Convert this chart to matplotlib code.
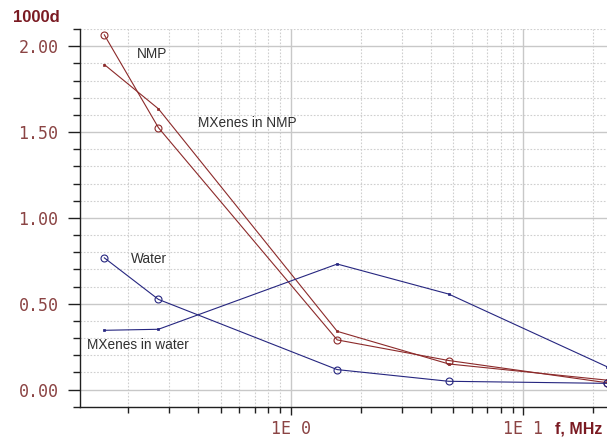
import matplotlib
matplotlib.use("Agg")
import matplotlib.pyplot as plt
from matplotlib.ticker import FixedLocator, FuncFormatter, MultipleLocator, NullFormatter

# frequency, MHz
freq = [0.158, 0.27, 1.585, 4.78, 22.8]

# 1000d values
nmp = [2.066, 1.525, 0.289, 0.169, 0.040]
mx_nmp = [1.893, 1.635, 0.339, 0.149, 0.055]
water = [0.767, 0.525, 0.116, 0.048, 0.036]
mx_water = [0.345, 0.351, 0.731, 0.556, 0.134]

red = "#8c2a2a"
blue = "#262680"
tick_col = "#8b4444"
lab_col = "#7a1a22"

W, H = 607, 437
fig = plt.figure(figsize=(W / 100, H / 100), dpi=100)
ax = fig.add_axes([80 / W, 1 - 406.7 / H, 527 / W, 377.7 / H])

ax.plot(freq, nmp, color=red, lw=0.8, marker="o", ms=5, mfc="none", mew=0.8)
ax.plot(freq, mx_nmp, color=red, lw=0.8, marker="s", ms=2, mew=0.5)
ax.plot(freq, water, color=blue, lw=0.8, marker="o", ms=5, mfc="none", mew=0.8)
ax.plot(freq, mx_water, color=blue, lw=0.8, marker="s", ms=2, mew=0.5)

ax.set_xscale("log")
ax.set_xlim(0.1242, 22.9)
ax.set_ylim(-0.1, 2.1)

ax.xaxis.set_major_locator(FixedLocator([1, 10]))
ax.xaxis.set_major_formatter(FuncFormatter(lambda v, p: "1E 0" if v < 5 else "1E 1"))
minors = [m * d for d in (0.1, 1, 10) for m in range(2, 10)]
ax.xaxis.set_minor_locator(FixedLocator(minors))
ax.xaxis.set_minor_formatter(NullFormatter())
ax.yaxis.set_major_locator(MultipleLocator(0.5))
ax.yaxis.set_minor_locator(MultipleLocator(0.1))
ax.yaxis.set_major_formatter(FuncFormatter(lambda v, p: f"{v:.2f}"))

ax.grid(which="major", color="#c8c8c8", lw=1.0, ls="-")
ax.grid(which="minor", color="#cfcfcf", lw=0.8, ls=(0, (1.5, 1.5)))
ax.set_axisbelow(True)

for s in ("top", "right"):
    ax.spines[s].set_visible(False)
for s in ("left", "bottom"):
    ax.spines[s].set_color("#202020")
    ax.spines[s].set_linewidth(1.0)

ax.tick_params(axis="y", which="major", length=8.5, width=1, color="#202020", pad=7,
               labelcolor=tick_col, labelsize=12)
ax.tick_params(axis="y", which="minor", length=5, width=1, color="#202020")
ax.tick_params(axis="x", which="major", length=6, width=1, color="#202020", pad=3.5,
               labelcolor=tick_col, labelsize=12)
ax.tick_params(axis="x", which="minor", length=4.3, width=1, color="#202020")
for lb in ax.get_xticklabels() + ax.get_yticklabels():
    lb.set_family("DejaVu Sans Mono")

# curve labels, placed in pixel positions of the figure
def px_text(x, y, s, **kw):
    fig.text(x / W, 1 - y / H, s, va="center", ha="left", **kw)

txt = dict(family="Liberation Sans", fontsize=9.8, color="#303030")
px_text(136.7, 54, "NMP", **txt)
px_text(198, 123.3, "MXenes in NMP", **txt)
px_text(131, 259.3, "Water", **txt)
px_text(86.7, 345, "MXenes in water", **txt)

px_text(13, 18, "1000d", family="Liberation Sans", fontsize=12, color=lab_col,
        fontweight="bold")
px_text(555, 429, "f, MHz", family="Liberation Sans", fontsize=11.5, color=lab_col,
        fontweight="bold")

fig.savefig("out.png", dpi=100)
